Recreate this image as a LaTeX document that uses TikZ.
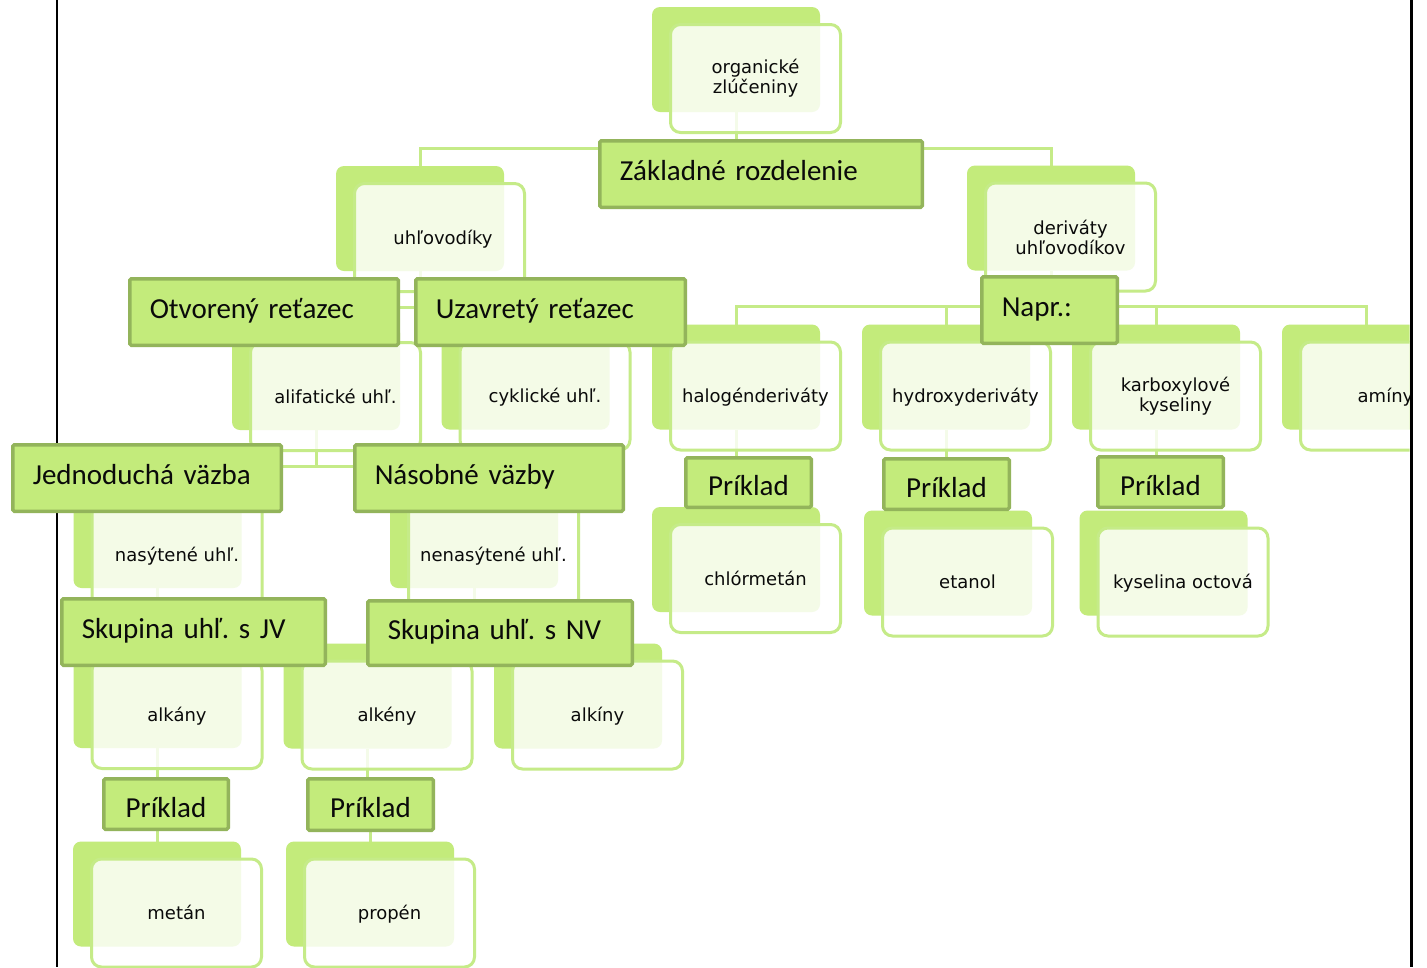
\documentclass[tikz,border=0pt]{standalone}
\usepackage{fontspec}
\newfontfamily\cardfont{DejaVu Sans}
\newfontfamily\labfont{Carlito}
\usetikzlibrary{calc}
\pgfdeclarelayer{paper}
\pgfdeclarelayer{links}
\pgfsetlayers{paper,links,main}
\definecolor{gback}{HTML}{C3EB7B}
\definecolor{gline}{HTML}{C5EB88}
\definecolor{gdark}{HTML}{93B45B}
\definecolor{txt}{HTML}{0A0A0A}
\frenchspacing
\tikzset{
  backcard/.style={fill=gback, rounded corners=8pt, minimum width=168pt, minimum height=105pt, inner sep=0pt, outer sep=0pt},
  frontcard/.style={fill=white, fill opacity=0.82, text opacity=1, draw=gline, draw opacity=1, line width=3pt, rounded corners=10pt, minimum width=170pt, minimum height=108pt, inner sep=0pt, outer sep=0pt, font=\cardfont\fontsize{18}{20}\selectfont, align=center, text=txt},
  oneline/.style={text height=13pt, text depth=0pt},
  labelbox/.style={fill=gback, draw=gdark, line width=3.5pt, inner sep=0pt, outer sep=0pt, rounded corners=1.5pt, font=\labfont\fontsize{29}{30}\selectfont, text=txt},
  widelbl/.style={labelbox, inner xsep=20pt, align=left, text height=18pt, text depth=6pt, minimum height=66.5pt},
  priklad/.style={labelbox, text height=26pt, text depth=0pt, minimum width=125.5pt},
  conn/.style={draw=gline, line width=3pt},
}
\newcommand\mycard[5][oneline]{%
  \node[backcard] (#2b) at (#3,#4) {};
  \node[frontcard,#1] (#2) at (#3+19.5,#4+19) {#5};
}
\begin{document}
\begin{tikzpicture}[x=1pt,y=-1pt]
\useasboundingbox (0,0) rectangle (1427,967);
\begin{pgfonlayer}{paper}
\fill[white] (0,0) rectangle (1427,967);
\end{pgfonlayer}
\draw[line width=2pt] (57,0) -- (57,967);
\begin{scope}
\clip (0,0) rectangle (1409.5,967);
% cards
\mycard[]{org}{736}{59.5}{organické\\zlúčeniny}
\mycard{uhl}{420}{218.5}{\hspace*{7pt}uhľovodíky}
\mycard[]{der}{1051}{218}{deriváty\\uhľovodíkov}
\mycard{ali}{316}{377.5}{alifatické uhľ.}
\mycard{cyk}{525.5}{377}{cyklické uhľ.}
\mycard{halo}{736}{377}{halogénderiváty}
\mycard{hydro}{946}{377}{hydroxyderiváty}
\mycard[]{karb}{1156}{377}{karboxylové\\kyseliny}
\mycard{amin}{1366}{377}{amíny}
\mycard{chlor}{736}{559.5}{chlórmetán}
\mycard{etan}{948}{563}{etanol}
\mycard{kys}{1163.5}{563}{kyselina octová}
\mycard{nasy}{157.5}{535.5}{nasýtené uhľ.}
\mycard{nenasy}{474}{535.5}{nenasýtené uhľ.}
\mycard{alkany}{157.5}{695.5}{alkány}
\mycard{alkeny}{367.5}{696}{alkény}
\mycard{alkiny}{578}{696}{alkíny}
\mycard{metan}{157}{894}{metán}
\mycard{propen}{370}{894}{propén}
% label boxes
\node[widelbl, minimum width=322.5pt, text width=282.5pt] (zakl) at (761,174) {Základné rozdelenie};
\node[widelbl, minimum width=268.5pt, text width=228.5pt] (otv) at (264,312) {Otvorený reťazec};
\node[widelbl, minimum width=269.5pt, text width=229.5pt] (uzav) at (550.5,312) {Uzavretý reťazec};
\node[widelbl, minimum width=135.5pt, text width=95.5pt] (napr) at (1049.5,310) {Napr.:};
\node[widelbl, minimum width=268.5pt, text width=228.5pt] (jedn) at (147,478) {Jednoduchá väzba};
\node[widelbl, minimum width=268.5pt, text width=228.5pt] (naso) at (489,478) {Násobné väzby};
\node[widelbl, minimum width=263.5pt, text width=223.5pt] (sjv) at (193.5,632) {Skupina uhľ. s JV};
\node[widelbl, minimum width=264.5pt, text width=224.5pt, minimum height=64.5pt] (snv) at (500,633) {Skupina uhľ. s NV};
\node[priklad, minimum height=49.5pt] (p1) at (748.5,482.5) {Príklad};
\node[priklad, minimum height=50.5pt] (p2) at (946.5,484) {Príklad};
\node[priklad, minimum height=50.5pt] (p3) at (1160.5,482) {Príklad};
\node[priklad, minimum height=50.5pt, minimum width=124.5pt] (pjv) at (166,804) {Príklad};
\node[priklad, minimum height=51.5pt] (pnv) at (370.5,804.5) {Príklad};
\end{scope}
% connectors
\begin{pgfonlayer}{links}
\draw[conn] (orgb.south) -- (orgb.south |- zakl.north);
\draw[conn] (uhlb.north) |- ([yshift=-7.5pt]zakl.north) -| (derb.north);
\coordinate (uhlj) at ($(uhlb.south)+(0,36)$);
\draw[conn] (uhlb.south) -- (uhlj);
\draw[conn] (alib.north) |- (uhlj) -| (cykb.north);
\coordinate (alij) at ($(alib.south)+(0,36)$);
\draw[conn] (alib.south) -- (alij);
\draw[conn] (nasyb.north) |- (alij) -| (nenasyb.north);
\draw[conn] (nasyb.south) -- (nasyb.south |- sjv.north);
\draw[conn] (nenasyb.south) -- (nenasyb.south |- snv.north);
\draw[conn] (alkenyb.north) |- ([yshift=-5pt]snv.center) -| (alkinyb.north);
\draw[conn] (alkanyb.south) -- (alkanyb.south |- pjv.north);
\draw[conn] (alkenyb.south) -- (alkenyb.south |- pnv.north);
\draw[conn] (metanb.north) -- (metanb.north |- pjv.south);
\draw[conn] (propenb.north) -- (propenb.north |- pnv.south);
\coordinate (derj) at ($(derb.south)+(0,36)$);
\draw[conn] (derb.south) -- (derj);
\draw[conn] (halob.north) |- (derj) -| (aminb.north);
\draw[conn] (hydrob.north) -- (hydrob.north |- derj);
\draw[conn] (karbb.north) -- (karbb.north |- derj);
\draw[conn] (halob.south) -- (halob.south |- p1.north);
\draw[conn] (hydrob.south) -- (hydrob.south |- p2.north);
\draw[conn] (karbb.south) -- (karbb.south |- p3.north);
\end{pgfonlayer}
\draw[line width=3pt] (1411,0) -- (1411,967);
\end{tikzpicture}
\end{document}
